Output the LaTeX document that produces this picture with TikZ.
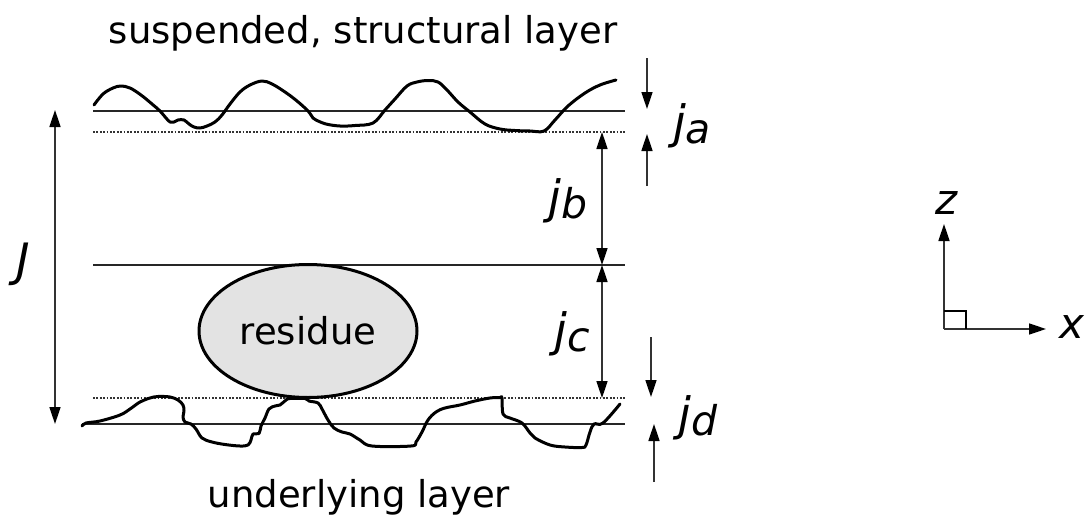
\documentclass[tikz,border=0pt]{standalone}
\usepackage{fontspec}
\setmainfont{DejaVu Sans}
\usetikzlibrary{arrows.meta,shapes.geometric}
\tikzset{
  ln/.style={line width=1.8pt,draw=black!85},
  dot/.style={line width=1.8pt,draw=black!80,dash pattern=on 1.8pt off 1.6pt},
  rough/.style={line width=3pt,line join=round,line cap=round,smooth,tension=0.6},
  arr/.style={line width=1.7pt,draw=black!80,-{Triangle[length=17pt,width=11pt,fill=black,color=black]}},
  darr/.style={line width=1.7pt,draw=black!80,{Triangle[length=17pt,width=11pt,fill=black,color=black]}-{Triangle[length=17pt,width=11pt,fill=black,color=black]}},
  lab/.style={inner sep=0pt,font=\fontsize{37}{37}\selectfont},
  sym/.style={inner sep=0pt,font=\fontsize{46}{46}\selectfont\itshape},
  axsym/.style={inner sep=0pt,font=\fontsize{42}{42}\selectfont\itshape}
}
\newcommand{\subsc}[1]{\raisebox{-5pt}{\fontsize{41}{41}\selectfont\itshape #1}}
\begin{document}
\begin{tikzpicture}[x=1pt,y=-1pt]
\useasboundingbox (0,0) rectangle (1085,520);
\coordinate (l1a) at (93,111); \coordinate (l1b) at (625,111);
\coordinate (l2a) at (93,132); \coordinate (l2b) at (625,132);
\coordinate (l3a) at (93,265); \coordinate (l3b) at (625,265);
\coordinate (l4a) at (93,398); \coordinate (l4b) at (625,398);
\coordinate (l5a) at (82,424); \coordinate (l5b) at (625,424);
\draw[ln] (l1a)--(l1b);
\draw[dot] (l2a)--(l2b);
\draw[ln] (l3a)--(l3b);
\draw[dot] (l4a)--(l4b);
\draw[ln] (l5a)--(l5b);
\draw[rough] plot coordinates {(94,105)(103,94)(113,88)(121,86)(130,88)(141,95)(152,104)(160,111)(166,118)(170,122)(174,122)(178,120)(184,120)(189,124)(194,127)(200,128)(207,126)(215,122)(222,115)(230,104)(240,92)(250,85)(262,81)(272,84)(285,92)(297,101)(308,111)(313,118)(316,120)(326,124)(340,126)(355,125.5)(373,123)(385,110)(395,99)(407,86)(417,82)(428,80.5)(438,82)(447,90)(458,102)(470,112)(485,124)(500,129)(515,130.5)(530,131)(544,131)(555,120)(568,106)(585,93)(600,85)(616,80)};
\draw[rough] plot coordinates {(82,426)(86,423)(100,421)(120,415)(130,409)(140,402)(150,398)(158,396.5)(170,397)(178,400)(183,405)(184,411)(183,417)(185,422)(191,424)(196,429)(202,438)(212,442)(225,444.5)(240,446)(248,445)(251,440)(253,434)(259,433.5)(261,426)(265,418)(269,409)(275,406)(280,405)(286,400)(290,398.5)(305,398.5)(309,401)(318,403)(322,409)(328,420)(334,428)(342,432)(350,434)(360,440)(372,446)(411,446)(416,442)(422,432)(428,420)(436,412)(445,408)(460,405)(475,401)(490,398)(500,397.5)(502,398)(503,414)(510,418)(522,423)(530,433)(535,438)(550,445)(565,447)(582,447.5)(586,445)(590,432)(594,424)(603,423)(620,404)};
\node[draw,ellipse,minimum width=218pt,minimum height=133pt,line width=3pt,fill=black!11,lab,inner sep=0pt] (res) at (308,331) {residue};
\node[lab,anchor=base] (top) at (363,43) {suspended, structural layer};
\node[lab,anchor=base] (bot) at (359,507) {underlying layer};
% dimension arrows
\coordinate (Ja) at (55,110); \coordinate (Jb) at (55,424);
\draw[darr] (Ja)--(Jb);
\coordinate (jb1) at (602,132); \coordinate (jb2) at (602,265); \coordinate (jc2) at (602,398);
\draw[darr] (jb1)--(jb2);
\draw[darr] (jb2)--(jc2);
\coordinate (a1) at (647,58); \coordinate (a2) at (647,109);
\coordinate (a3) at (647,186); \coordinate (a4) at (647,134);
\draw[arr] (a1)--(a2);
\draw[arr] (a3)--(a4);
\coordinate (d1) at (651,337); \coordinate (d2) at (651,397);
\coordinate (d3) at (654,482); \coordinate (d4) at (654,424);
\draw[arr] (d1)--(d2);
\draw[arr] (d3)--(d4);
\node[sym,anchor=base] (J) at (23,276) {J};
\node[sym,anchor=base] (ja) at (692,138) {j\subsc{a}};
\node[sym,anchor=base] (jb) at (568,213) {j\subsc{b}};
\node[sym,anchor=base] (jc) at (572,346) {j\subsc{c}};
\node[sym,anchor=base] (jd) at (698,430) {j\subsc{d}};
% axes
\coordinate (o) at (944,329); \coordinate (zt) at (944,224); \coordinate (xt) at (1046,329);
\draw[arr] (o)--(zt);
\draw[arr] (o)--(xt);
\draw[line width=1.7pt] (944,311) -| (966,329);
\node[axsym,anchor=base] (z) at (947,214) {z};
\node[axsym,anchor=base] (x) at (1072,338) {x};
\end{tikzpicture}
\end{document}
